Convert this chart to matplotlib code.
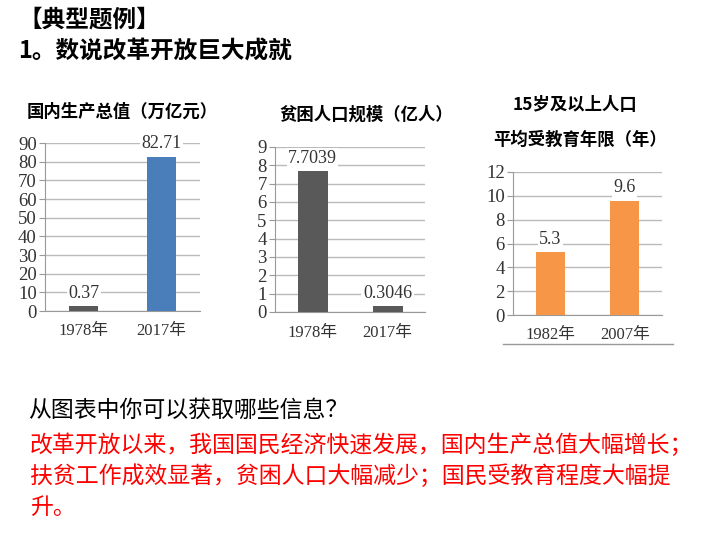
import matplotlib.pyplot as plt
from matplotlib.lines import Line2D

plt.rcParams['font.family'] = ['Noto Sans CJK SC', 'DejaVu Sans']

# chart 1: GDP (trillion yuan)
gdp_years = ['1978年', '2017年']
gdp_values = [2.8, 82.71]          # bar heights as drawn in the picture
gdp_labels = ['0.37', '82.71']
gdp_colors = ['#595959', '#4a7ebb']

# chart 2: poverty population (100 million)
pov_years = ['1978年', '2017年']
pov_values = [7.7039, 0.3046]
pov_labels = ['7.7039', '0.3046']

# chart 3: average schooling years of people aged 15+
edu_years = ['1982年', '2007年']
edu_values = [5.3, 9.6]
edu_labels = ['5.3', '9.6']

W, H = 720, 540
fig = plt.figure(figsize=(7.2, 5.4), dpi=100)
fig.patch.set_facecolor('white')

num_font = ['Liberation Serif', 'Noto Sans CJK SC']


def px_axes(x0, y0, x1, y1):
    # pixel box (top-left origin) -> figure axes
    return fig.add_axes([x0 / W, 1 - y1 / H, (x1 - x0) / W, (y1 - y0) / H])


def bar_chart(ax, cats, vals, labels, colors, ymax, step, width):
    pos = range(len(cats))
    ax.bar(pos, vals, width=width, color=colors, zorder=3)
    ax.set_xlim(-0.5, len(cats) - 0.5)
    ax.set_ylim(0, ymax)
    ax.set_yticks(range(0, ymax + 1, step))
    ax.set_xticks(list(pos))
    ax.set_xticklabels(cats, family=num_font, fontsize=12, color='#333333')
    for t in ax.get_yticklabels():
        t.set_family(num_font)
        t.set_fontsize(13.5)
        t.set_color('#333333')
    ax.grid(axis='y', color='#bbbbbb', linewidth=1.0, zorder=0)
    ax.tick_params(axis='y', length=4, color='#999999', pad=2)
    ax.tick_params(axis='x', length=0, pad=9)
    for s in ['top', 'right']:
        ax.spines[s].set_visible(False)
    for s in ['left', 'bottom']:
        ax.spines[s].set_color('#999999')
    for p, v, lab in zip(pos, vals, labels):
        ax.annotate(lab, (p, v), xytext=(0, 3), textcoords='offset points',
                    ha='center', va='bottom', family=num_font, fontsize=13,
                    color='#333333', zorder=4,
                    bbox=dict(facecolor='white', edgecolor='none', pad=1))


ax1 = px_axes(45, 143, 200, 311)
bar_chart(ax1, gdp_years, gdp_values, gdp_labels, gdp_colors, 90, 10, 0.37)

ax2 = px_axes(275, 147, 425, 312)
bar_chart(ax2, pov_years, pov_values, pov_labels, ['#595959'] * 2, 9, 1, 0.4)

ax3 = px_axes(513, 172, 662, 315)
bar_chart(ax3, edu_years, edu_values, edu_labels, ['#f79646'] * 2, 12, 2, 0.39)

# chart titles
fig.text(122 / W, 1 - 112 / H, '国内生产总值（万亿元）', ha='center', va='center',
         fontsize=12.5, fontweight='bold')
fig.text(366 / W, 1 - 115 / H, '贫困人口规模（亿人）', ha='center', va='center',
         fontsize=12.5, fontweight='bold')
fig.text(575 / W, 1 - 105 / H, '15岁及以上人口', ha='center', va='center',
         fontsize=12.5, fontweight='bold')
fig.text(580 / W, 1 - 140 / H, '平均受教育年限（年）', ha='center', va='center',
         fontsize=12.5, fontweight='bold')
fig.add_artist(Line2D([503 / W, 673 / W], [1 - 344 / H, 1 - 344 / H],
                      color='#999999', linewidth=1))

# slide text
fig.text(18 / W, 1 - 20 / H, '【典型题例】', ha='left', va='center',
         fontsize=17, fontweight='bold')
fig.text(18 / W, 1 - 52 / H, '1。数说改革开放巨大成就', ha='left', va='center',
         fontsize=17, fontweight='bold')
fig.text(28 / W, 1 - 410 / H, '从图表中你可以获取哪些信息？', ha='left', va='center',
         fontsize=16.5, fontweight='medium')
answer = ['改革开放以来，我国国民经济快速发展，国内生产总值大幅增长；',
          '扶贫工作成效显著，贫困人口大幅减少；国民受教育程度大幅提',
          '升。']
for i, line in enumerate(answer):
    fig.text(30 / W, 1 - (445 + 31 * i) / H, line, ha='left', va='center',
             fontsize=16.5, color='#ff0000', fontweight='medium')

plt.savefig('out.png', dpi=100)
